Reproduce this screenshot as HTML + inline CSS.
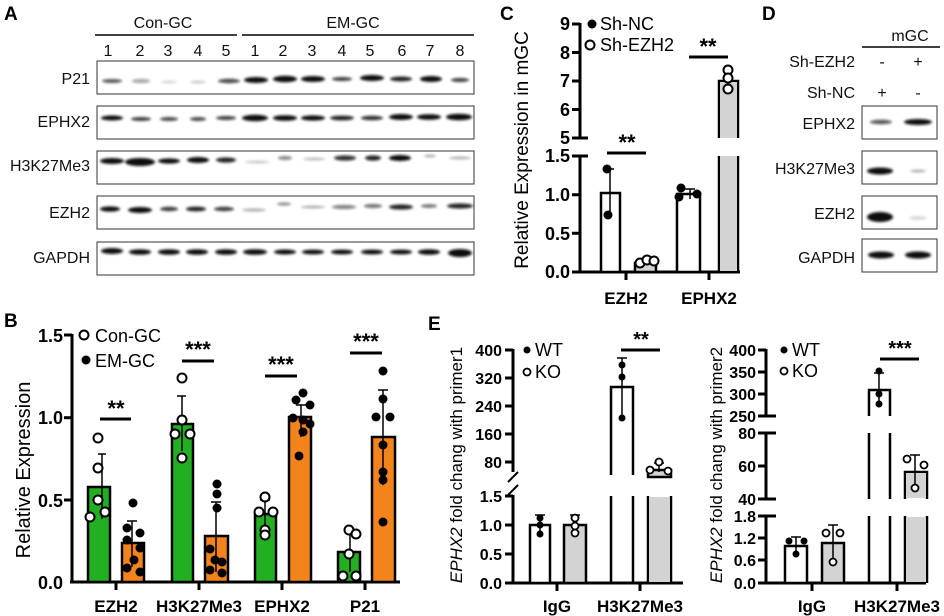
<!DOCTYPE html><html><head><meta charset="utf-8"><style>body{margin:0;background:#fff}svg{display:block}text{font-family:"Liberation Sans",sans-serif}</style></head><body>
<svg width="944" height="616" viewBox="0 0 944 616" xmlns="http://www.w3.org/2000/svg">
<defs><filter id="bl"><feGaussianBlur stdDeviation="1.2"/></filter></defs>
<g font-weight="bold" font-size="19"><text x="4" y="20">A</text><text x="4" y="327">B</text><text x="500" y="20">C</text><text x="762" y="20">D</text><text x="428" y="330">E</text></g>
<!-- Panel A -->
<g font-size="16" fill="#111">
<text x="163" y="28" text-anchor="middle">Con-GC</text><text x="353" y="28" text-anchor="middle">EM-GC</text>
<line x1="95" y1="35" x2="237" y2="35" stroke="#000" stroke-width="1.5"/><line x1="242" y1="35" x2="474" y2="35" stroke="#000" stroke-width="1.5"/>
<g text-anchor="middle"><text x="108" y="56">1</text><text x="140" y="56">2</text><text x="168" y="56">3</text><text x="198" y="56">4</text><text x="226" y="56">5</text><text x="255" y="56">1</text><text x="283" y="56">2</text><text x="312" y="56">3</text><text x="342" y="56">4</text><text x="370" y="56">5</text><text x="402" y="56">6</text><text x="430" y="56">7</text><text x="460" y="56">8</text></g>
<g text-anchor="end"><text x="90" y="84">P21</text><text x="90" y="127">EPHX2</text><text x="90" y="171">H3K27Me3</text><text x="90" y="218">EZH2</text><text x="90" y="263">GAPDH</text></g>
</g>
<g fill="none" stroke="#333" stroke-width="1"><rect x="97" y="61" width="377" height="33"/><rect x="97" y="106" width="377" height="33"/><rect x="97" y="151" width="377" height="33"/><rect x="97" y="196" width="377" height="33"/><rect x="97" y="242" width="377" height="33"/></g>
<g filter="url(#bl)" fill="#111">
<g><ellipse cx="112" cy="81" rx="10" ry="2" opacity=".7"/><ellipse cx="141" cy="81" rx="9" ry="2" opacity=".4"/><ellipse cx="169" cy="82" rx="8" ry="1.5" opacity=".15"/><ellipse cx="198" cy="82" rx="8" ry="1.5" opacity=".2"/><ellipse cx="229" cy="81" rx="11" ry="2.2" opacity=".75"/><ellipse cx="256" cy="80" rx="12" ry="3" /><ellipse cx="285" cy="79" rx="12" ry="3.2"/><ellipse cx="313" cy="79" rx="12" ry="3"/><ellipse cx="342" cy="79" rx="10" ry="2" opacity=".8"/><ellipse cx="372" cy="78" rx="12" ry="3"/><ellipse cx="401" cy="79" rx="11" ry="2.5" opacity=".9"/><ellipse cx="431" cy="79" rx="11" ry="3"/><ellipse cx="460" cy="80" rx="9" ry="2" opacity=".8"/></g>
<g><ellipse cx="112" cy="118" rx="11" ry="2.5"/><ellipse cx="141" cy="119" rx="10" ry="2" opacity=".8"/><ellipse cx="169" cy="119" rx="9" ry="2" opacity=".75"/><ellipse cx="198" cy="119" rx="8" ry="2" opacity=".75"/><ellipse cx="226" cy="118" rx="10" ry="2" opacity=".8"/><ellipse cx="255" cy="118" rx="13" ry="3.2"/><ellipse cx="285" cy="118" rx="12" ry="2.8"/><ellipse cx="313" cy="118" rx="12" ry="2.6"/><ellipse cx="342" cy="118" rx="12" ry="2.4" opacity=".9"/><ellipse cx="372" cy="118" rx="11" ry="2.3" opacity=".85"/><ellipse cx="401" cy="117" rx="12" ry="3"/><ellipse cx="429" cy="117" rx="12" ry="2.8"/><ellipse cx="459" cy="117" rx="13" ry="3.3"/></g>
<g><ellipse cx="112" cy="161" rx="12" ry="3"/><ellipse cx="140" cy="162" rx="15" ry="4"/><ellipse cx="169" cy="161" rx="11" ry="2.6"/><ellipse cx="198" cy="160" rx="11" ry="3"/><ellipse cx="226" cy="160" rx="10" ry="2.6" opacity=".9"/><ellipse cx="257" cy="162" rx="12" ry="1.5" opacity=".2"/><ellipse cx="285" cy="158" rx="7" ry="2" opacity=".5"/><ellipse cx="314" cy="159" rx="11" ry="1.5" opacity=".25"/><ellipse cx="345" cy="158" rx="11" ry="2.6" opacity=".85"/><ellipse cx="373" cy="158" rx="8" ry="2.6" opacity=".9"/><ellipse cx="400" cy="158" rx="11" ry="3"/><ellipse cx="430" cy="156" rx="6" ry="1.5" opacity=".3"/><ellipse cx="460" cy="158" rx="11" ry="1.5" opacity=".3"/></g>
<g><ellipse cx="110" cy="209" rx="10" ry="2.6"/><ellipse cx="140" cy="210" rx="12" ry="3"/><ellipse cx="169" cy="209" rx="9" ry="2.2" opacity=".8"/><ellipse cx="196" cy="209" rx="10" ry="2.4" opacity=".9"/><ellipse cx="224" cy="209" rx="10" ry="2.2" opacity=".8"/><ellipse cx="254" cy="210" rx="12" ry="1.6" opacity=".3"/><ellipse cx="284" cy="204" rx="7" ry="1.5" opacity=".5"/><ellipse cx="313" cy="207" rx="12" ry="1.5" opacity=".3"/><ellipse cx="344" cy="207" rx="12" ry="2" opacity=".55"/><ellipse cx="373" cy="206" rx="9" ry="2" opacity=".6"/><ellipse cx="401" cy="207" rx="12" ry="2.6" opacity=".9"/><ellipse cx="429" cy="206" rx="8" ry="1.8" opacity=".6"/><ellipse cx="460" cy="206" rx="13" ry="2.6" opacity=".9"/></g>
<g><ellipse cx="112" cy="251" rx="11" ry="3"/><ellipse cx="140" cy="252" rx="11" ry="2.8"/><ellipse cx="169" cy="252" rx="11" ry="2.8"/><ellipse cx="197" cy="252" rx="11" ry="2.8"/><ellipse cx="226" cy="252" rx="11" ry="2.8"/><ellipse cx="255" cy="252" rx="12" ry="2.8"/><ellipse cx="285" cy="252" rx="11" ry="2.5"/><ellipse cx="313" cy="252" rx="11" ry="2.4"/><ellipse cx="342" cy="252" rx="11" ry="2.4"/><ellipse cx="372" cy="252" rx="11" ry="2.4"/><ellipse cx="401" cy="252" rx="11" ry="2.4"/><ellipse cx="429" cy="252" rx="11" ry="2.8"/><ellipse cx="460" cy="253" rx="12" ry="4"/></g>
</g>
<!-- Panel D -->
<g font-size="16" fill="#111">
<text x="910" y="41" text-anchor="middle">mGC</text><line x1="862" y1="47" x2="940" y2="47" stroke="#000" stroke-width="1.5"/>
<text x="855" y="67" text-anchor="end">Sh-EZH2</text><text x="882" y="67" text-anchor="middle">-</text><text x="918" y="67" text-anchor="middle">+</text>
<text x="855" y="98" text-anchor="end">Sh-NC</text><text x="882" y="98" text-anchor="middle">+</text><text x="918" y="98" text-anchor="middle">-</text>
<g text-anchor="end"><text x="855" y="129">EPHX2</text><text x="855" y="174">H3K27Me3</text><text x="855" y="219">EZH2</text><text x="855" y="263">GAPDH</text></g>
</g>
<g fill="none" stroke="#333"><rect x="862" y="106" width="75" height="33"/><rect x="862" y="151" width="75" height="33"/><rect x="862" y="196" width="75" height="33"/><rect x="862" y="239" width="75" height="33"/></g>
<g filter="url(#bl)" fill="#111"><ellipse cx="881" cy="122" rx="11" ry="2.2" opacity=".7"/><ellipse cx="918" cy="122" rx="14" ry="3"/><ellipse cx="880" cy="171" rx="13" ry="3.5"/><ellipse cx="918" cy="171" rx="8" ry="1.5" opacity=".3"/><ellipse cx="880" cy="217" rx="13" ry="5"/><ellipse cx="918" cy="218" rx="9" ry="2" opacity=".15"/><ellipse cx="881" cy="255" rx="13" ry="3.5"/><ellipse cx="918" cy="255" rx="13" ry="3.5"/></g>
<!-- Panel B -->
<g stroke="#000" stroke-width="3" fill="none">
<line x1="72" y1="334" x2="72" y2="583"/><line x1="70" y1="582" x2="400" y2="582"/>
<line x1="64" y1="335" x2="72" y2="335"/><line x1="64" y1="417.7" x2="72" y2="417.7"/><line x1="64" y1="500" x2="72" y2="500"/>
<line x1="116" y1="582" x2="116" y2="590"/><line x1="199" y1="582" x2="199" y2="590"/><line x1="282" y1="582" x2="282" y2="590"/><line x1="365" y1="582" x2="365" y2="590"/>
</g>
<g font-size="18" font-weight="bold" text-anchor="end"><text x="63" y="342">1.5</text><text x="63" y="424">1.0</text><text x="63" y="507">0.5</text><text x="63" y="589">0.0</text></g>
<text transform="translate(30,470) rotate(-90)" font-size="20" text-anchor="middle">Relative Expression</text>
<g font-size="17" font-weight="bold" text-anchor="middle"><text x="116" y="612">EZH2</text><text x="199" y="612">H3K27Me3</text><text x="282" y="612">EPHX2</text><text x="365" y="612">P21</text></g>
<g stroke="#000" stroke-width="2.5">
<rect x="88" y="487" width="22" height="95" fill="#22b022"/><rect x="122" y="543" width="22" height="39" fill="#f3841c"/>
<rect x="172" y="424" width="21" height="158" fill="#22b022"/><rect x="205" y="536" width="23" height="46" fill="#f3841c"/>
<rect x="255" y="514" width="21" height="68" fill="#22b022"/><rect x="289" y="417" width="22" height="165" fill="#f3841c"/>
<rect x="338" y="552" width="22" height="30" fill="#22b022"/><rect x="372" y="437" width="23" height="145" fill="#f3841c"/>
</g>
<g stroke="#000" stroke-width="1.5" fill="none">
<path d="M98 454H106M102 454V519M127 521H137M132 521V567M177 396H186M182 396V451M211 502H221M216 502V572M260 500H270M265 500V527M296 405H306M301 405V437M345 532H355M350 532V572M378 390H388M383 390V485"/>
</g>
<g fill="#fff" stroke="#000" stroke-width="2"><circle cx="98" cy="438" r="4.5"/><circle cx="98" cy="468" r="4.5"/><circle cx="98" cy="500" r="4.5"/><circle cx="90" cy="517" r="4.5"/><circle cx="105" cy="512" r="4.5"/>
<circle cx="182" cy="378" r="4.5"/><circle cx="182" cy="420" r="4.5"/><circle cx="175" cy="434" r="4.5"/><circle cx="190" cy="434" r="4.5"/><circle cx="182" cy="458" r="4.5"/>
<circle cx="265" cy="497" r="4.5"/><circle cx="259" cy="512" r="4.5"/><circle cx="273" cy="512" r="4.5"/><circle cx="265" cy="530" r="4.5"/><circle cx="265" cy="535" r="4.5"/>
<circle cx="349" cy="530" r="4.5"/><circle cx="356" cy="534" r="4.5"/><circle cx="349" cy="554" r="4.5"/><circle cx="343" cy="576" r="4.5"/><circle cx="356" cy="576" r="4.5"/></g>
<g fill="#000"><circle cx="133" cy="503" r="4.5"/><circle cx="127" cy="528" r="4.5"/><circle cx="140" cy="533" r="4.5"/><circle cx="127" cy="540" r="4.5"/><circle cx="140" cy="548" r="4.5"/><circle cx="127" cy="568" r="4.5"/><circle cx="140" cy="572" r="4.5"/><circle cx="134" cy="560" r="4.5"/>
<circle cx="217" cy="484" r="4.5"/><circle cx="217" cy="494" r="4.5"/><circle cx="217" cy="508" r="4.5"/><circle cx="210" cy="549" r="4.5"/><circle cx="215" cy="560" r="4.5"/><circle cx="222" cy="562" r="4.5"/><circle cx="210" cy="570" r="4.5"/><circle cx="222" cy="573" r="4.5"/>
<circle cx="303" cy="393" r="4.5"/><circle cx="296" cy="400" r="4.5"/><circle cx="310" cy="405" r="4.5"/><circle cx="293" cy="418" r="4.5"/><circle cx="303" cy="420" r="4.5"/><circle cx="310" cy="424" r="4.5"/><circle cx="303" cy="432" r="4.5"/><circle cx="299" cy="456" r="4.5"/>
<circle cx="383" cy="371" r="4.5"/><circle cx="383" cy="399" r="4.5"/><circle cx="376" cy="417" r="4.5"/><circle cx="390" cy="417" r="4.5"/><circle cx="383" cy="445" r="4.5"/><circle cx="383" cy="472" r="4.5"/><circle cx="383" cy="480" r="4.5"/><circle cx="383" cy="522" r="4.5"/></g>
<g fill="none" stroke="#000" stroke-width="2"><circle cx="84" cy="335" r="4.5"/></g><circle cx="86" cy="360" r="4.5"/>
<text x="95" y="342" font-size="18">Con-GC</text><text x="95" y="367" font-size="18">EM-GC</text>
<g stroke="#000" stroke-width="3"><line x1="100" y1="419" x2="131" y2="419"/><line x1="182" y1="361" x2="214" y2="361"/><line x1="265" y1="376" x2="297" y2="376"/><line x1="350" y1="353" x2="382" y2="353"/></g>
<g font-size="22" font-weight="bold" text-anchor="middle"><text x="116" y="416">**</text><text x="198" y="357">***</text><text x="281" y="372">***</text><text x="366" y="349">***</text></g>
<!-- Panel C -->
<g stroke="#000" stroke-width="3" fill="none">
<line x1="580" y1="23" x2="580" y2="139"/><line x1="580" y1="155" x2="580" y2="273"/><line x1="578" y1="272" x2="740" y2="272"/>
<path d="M572 24H580M572 52.5H580M572 81H580M572 109.5H580M572 138H588M572 156H588M572 194.7H580M572 233.3H580M572 272H580"/>
<line x1="626" y1="272" x2="626" y2="280"/><line x1="709" y1="272" x2="709" y2="280"/>
</g>
<g font-size="18" font-weight="bold" text-anchor="end"><text x="570" y="30">9</text><text x="570" y="59">8</text><text x="570" y="87">7</text><text x="570" y="116">6</text><text x="570" y="144">5</text><text x="570" y="162">1.5</text><text x="570" y="201">1.0</text><text x="570" y="240">0.5</text><text x="570" y="278">0.0</text></g>
<text transform="translate(528,150) rotate(-90)" font-size="19" text-anchor="middle">Relative Expression in mGC</text>
<g font-size="17" font-weight="bold" text-anchor="middle"><text x="626" y="304">EZH2</text><text x="709" y="304">EPHX2</text></g>
<g stroke="#000" stroke-width="2.5"><rect x="601" y="193" width="19" height="79" fill="#fff"/><rect x="635" y="263" width="21" height="9" fill="#d3d3d3"/><rect x="677" y="194" width="23" height="78" fill="#fff"/>
<path d="M719 272V156M738 272V156M719 138V81H738V138" fill="none"/></g>
<rect x="720" y="82" width="17" height="56" fill="#d3d3d3"/><rect x="720" y="156" width="17" height="115" fill="#d3d3d3"/>
<g stroke="#000" stroke-width="1.5" fill="none"><path d="M606 169H614M610 169V215M685 189H695M690 189V199"/></g>
<g fill="#000"><circle cx="607" cy="169" r="4.5"/><circle cx="608" cy="215" r="4.5"/><circle cx="681" cy="188" r="4.5"/><circle cx="679" cy="197" r="4.5"/><circle cx="697" cy="194" r="4.5"/></g>
<g fill="#fff" stroke="#000" stroke-width="2"><circle cx="640" cy="263" r="4.5"/><circle cx="647" cy="260" r="4.5"/><circle cx="654" cy="261" r="4.5"/><circle cx="728" cy="70" r="4.5"/><circle cx="728" cy="78" r="4.5"/><circle cx="728" cy="89" r="4.5"/></g>
<circle cx="592" cy="24" r="4.5"/><circle cx="590" cy="45" r="4.5" fill="#fff" stroke="#000" stroke-width="2"/>
<text x="600" y="30" font-size="18">Sh-NC</text><text x="600" y="51" font-size="18">Sh-EZH2</text>
<g stroke="#000" stroke-width="3"><line x1="607" y1="153" x2="646" y2="153"/><line x1="689" y1="57" x2="728" y2="57"/></g>
<g font-size="22" font-weight="bold" text-anchor="middle"><text x="627" y="150">**</text><text x="708" y="54">**</text></g>
<!-- Panel E left -->
<g stroke="#000" stroke-width="3" fill="none">
<path d="M513 349V472M513 495V584M511 583H683M505 350H513M505 378H513M505 406H513M505 434H513M505 462H513M505 496H513M505 525H513M505 554H513M505 583H513"/>
<path d="M508 482L518 472M508 495L518 485" stroke-width="2"/>
<line x1="557" y1="583" x2="557" y2="591"/><line x1="640" y1="583" x2="640" y2="591"/>
</g>
<g font-size="16" font-weight="bold" text-anchor="end"><text x="502" y="356">400</text><text x="502" y="384">320</text><text x="502" y="412">240</text><text x="502" y="440">160</text><text x="502" y="468">80</text><text x="502" y="502">1.5</text><text x="502" y="531">1.0</text><text x="502" y="560">0.5</text><text x="502" y="589">0.0</text></g>
<text transform="translate(462,465) rotate(-90)" font-size="17" text-anchor="middle"><tspan font-style="italic">EPHX2</tspan> fold chang with primer1</text>
<g font-size="17" font-weight="bold" text-anchor="middle"><text x="557" y="612">IgG</text><text x="640" y="612">H3K27Me3</text></g>
<g stroke="#000" stroke-width="2.5"><rect x="530" y="525" width="20" height="58" fill="#fff"/><rect x="564" y="525" width="22" height="58" fill="#d3d3d3"/>
<path d="M611 583V496M633 583V496M611 475V387H633V475M648 583V496M671 583V496" fill="none"/>
<rect x="648" y="470" width="23" height="7" fill="#d3d3d3"/></g>
<rect x="649" y="497" width="21" height="85" fill="#d3d3d3"/>
<g stroke="#000" stroke-width="1.5" fill="none"><path d="M654 463H664M659 463V472M617 358H627M622 358V418M535 515H545M540 515V536M570 515H580M575 515V536"/></g>
<g fill="#000"><circle cx="622" cy="365" r="3.5"/><circle cx="622" cy="377" r="3.5"/><circle cx="622" cy="418" r="3.5"/><circle cx="540" cy="518" r="3.5"/><circle cx="540" cy="534" r="3.5"/><circle cx="540" cy="525" r="3.5"/></g>
<g fill="#fff" stroke="#000" stroke-width="1.8"><circle cx="575" cy="518" r="3.5"/><circle cx="575" cy="526" r="3.5"/><circle cx="575" cy="533" r="3.5"/><circle cx="659" cy="462" r="3.5"/><circle cx="650" cy="470" r="3.5"/><circle cx="668" cy="471" r="3.5"/></g>
<circle cx="527" cy="350" r="3.5"/><circle cx="527" cy="372" r="3.5" fill="#fff" stroke="#000" stroke-width="1.8"/>
<text x="535" y="356" font-size="18">WT</text><text x="535" y="378" font-size="18">KO</text>
<line x1="621" y1="350" x2="660" y2="350" stroke="#000" stroke-width="3"/><text x="641" y="346" font-size="20" font-weight="bold" text-anchor="middle">**</text>
<!-- Panel E right -->
<g stroke="#000" stroke-width="3" fill="none">
<path d="M766 349V417M766 432V500M766 515V584M764 583H926M758 350H766M758 372H766M758 394H766M758 416H776M758 433H776M758 466H766M758 499H776M758 516H776M758 538H766M758 560H766M758 583H766"/>
<line x1="812" y1="583" x2="812" y2="591"/><line x1="897" y1="583" x2="897" y2="591"/>
</g>
<g font-size="16" font-weight="bold" text-anchor="end"><text x="756" y="356">400</text><text x="756" y="378">350</text><text x="756" y="400">300</text><text x="756" y="422">250</text><text x="756" y="439">80</text><text x="756" y="472">60</text><text x="756" y="505">40</text><text x="756" y="522">1.8</text><text x="756" y="544">1.2</text><text x="756" y="566">0.6</text><text x="756" y="589">0.0</text></g>
<text transform="translate(722,465) rotate(-90)" font-size="17" text-anchor="middle"><tspan font-style="italic">EPHX2</tspan> fold chang with primer2</text>
<g font-size="17" font-weight="bold" text-anchor="middle"><text x="812" y="612">IgG</text><text x="897" y="612">H3K27Me3</text></g>
<g stroke="#000" stroke-width="2.5"><rect x="785" y="546" width="22" height="37" fill="#fff"/><rect x="822" y="543" width="22" height="40" fill="#d3d3d3"/>
<path d="M869 583V516M890 583V516M869 499V433M890 499V433M869 416V390H890V416M905 583V516M927 583V516M905 499V472H927V499" fill="none"/></g>
<rect x="906" y="473" width="20" height="25" fill="#d3d3d3"/><rect x="906" y="517" width="20" height="65" fill="#d3d3d3"/>
<g stroke="#000" stroke-width="1.5" fill="none"><path d="M791 537H801M796 537V555M828 525H838M833 525V563M874 373H884M879 373V406M910 455H920M915 455V488"/></g>
<g fill="#000"><circle cx="789" cy="541" r="3.5"/><circle cx="804" cy="541" r="3.5"/><circle cx="796" cy="554" r="3.5"/><circle cx="879" cy="371" r="3.5"/><circle cx="879" cy="394" r="3.5"/><circle cx="879" cy="404" r="3.5"/></g>
<g fill="#fff" stroke="#000" stroke-width="1.8"><circle cx="826" cy="533" r="3.5"/><circle cx="840" cy="533" r="3.5"/><circle cx="833" cy="562" r="3.5"/><circle cx="907" cy="459" r="3.5"/><circle cx="924" cy="465" r="3.5"/><circle cx="915" cy="488" r="3.5"/></g>
<circle cx="784" cy="350" r="3.5"/><circle cx="784" cy="371" r="3.5" fill="#fff" stroke="#000" stroke-width="1.8"/>
<text x="792" y="356" font-size="18">WT</text><text x="792" y="377" font-size="18">KO</text>
<line x1="880" y1="359" x2="919" y2="359" stroke="#000" stroke-width="3"/><text x="900" y="355" font-size="20" font-weight="bold" text-anchor="middle">***</text>
</svg></body></html>
